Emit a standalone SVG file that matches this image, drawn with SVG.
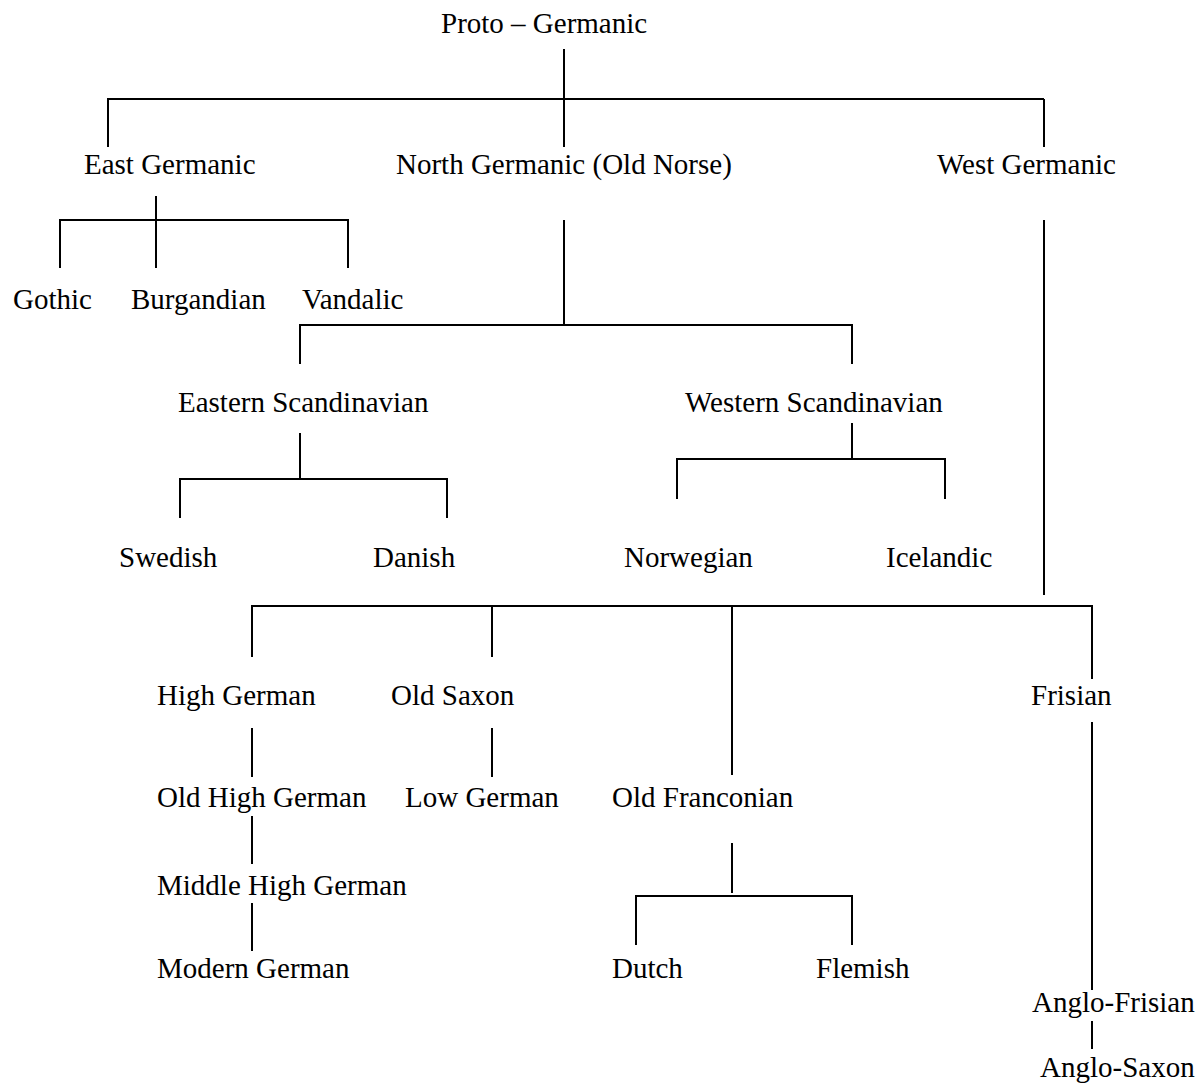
<svg xmlns="http://www.w3.org/2000/svg" width="1201" height="1086" viewBox="0 0 1201 1086">
<style>
text{font-family:"Liberation Serif","Times New Roman",serif;font-size:29px;fill:#000}
.c line{stroke:#000;stroke-width:2;fill:none}
</style>
<rect width="1201" height="1086" fill="#fff"/>
<g class="c" id="connectors">
<line x1="564" y1="49" x2="564" y2="147"/>
<line x1="107" y1="99" x2="1044" y2="99"/>
<line x1="108" y1="99" x2="108" y2="147"/>
<line x1="1044" y1="99" x2="1044" y2="147"/>
<line x1="156" y1="196" x2="156" y2="268"/>
<line x1="59" y1="220" x2="349" y2="220"/>
<line x1="60" y1="220" x2="60" y2="268"/>
<line x1="348" y1="220" x2="348" y2="268"/>
<line x1="564" y1="220" x2="564" y2="326"/>
<line x1="299" y1="325" x2="853" y2="325"/>
<line x1="300" y1="325" x2="300" y2="364"/>
<line x1="852" y1="325" x2="852" y2="364"/>
<line x1="300" y1="433" x2="300" y2="479"/>
<line x1="179" y1="479" x2="448" y2="479"/>
<line x1="180" y1="479" x2="180" y2="518"/>
<line x1="447" y1="479" x2="447" y2="518"/>
<line x1="852" y1="423" x2="852" y2="459"/>
<line x1="676" y1="459" x2="946" y2="459"/>
<line x1="677" y1="459" x2="677" y2="499"/>
<line x1="945" y1="459" x2="945" y2="499"/>
<line x1="1044" y1="220" x2="1044" y2="595"/>
<line x1="251" y1="606" x2="1093" y2="606"/>
<line x1="252" y1="606" x2="252" y2="657"/>
<line x1="492" y1="606" x2="492" y2="657"/>
<line x1="732" y1="606" x2="732" y2="775"/>
<line x1="1092" y1="606" x2="1092" y2="679"/>
<line x1="252" y1="728" x2="252" y2="777"/>
<line x1="492" y1="728" x2="492" y2="777"/>
<line x1="252" y1="816" x2="252" y2="864"/>
<line x1="252" y1="903" x2="252" y2="951"/>
<line x1="732" y1="843" x2="732" y2="893"/>
<line x1="635" y1="896" x2="853" y2="896"/>
<line x1="636" y1="896" x2="636" y2="945"/>
<line x1="852" y1="896" x2="852" y2="945"/>
<line x1="1092" y1="722" x2="1092" y2="990"/>
<line x1="1092" y1="1021" x2="1092" y2="1049"/>
</g>
<g id="proto-germanic"><text x="441" y="33">Proto – Germanic</text></g>
<g id="east-germanic"><text x="84" y="174">East Germanic</text></g>
<g id="north-germanic"><text x="396" y="174">North Germanic (Old Norse)</text></g>
<g id="west-germanic"><text x="937" y="174">West Germanic</text></g>
<g id="gothic"><text x="13" y="309">Gothic</text></g>
<g id="burgandian"><text x="131" y="309">Burgandian</text></g>
<g id="vandalic"><text x="302" y="309">Vandalic</text></g>
<g id="eastern-scandinavian"><text x="178" y="412">Eastern Scandinavian</text></g>
<g id="western-scandinavian"><text x="685" y="412">Western Scandinavian</text></g>
<g id="swedish"><text x="119" y="567">Swedish</text></g>
<g id="danish"><text x="373" y="567">Danish</text></g>
<g id="norwegian"><text x="624" y="567">Norwegian</text></g>
<g id="icelandic"><text x="886" y="567">Icelandic</text></g>
<g id="high-german"><text x="157" y="705">High German</text></g>
<g id="old-saxon"><text x="391" y="705">Old Saxon</text></g>
<g id="frisian"><text x="1031" y="705">Frisian</text></g>
<g id="old-high-german"><text x="157" y="807">Old High German</text></g>
<g id="low-german"><text x="405" y="807">Low German</text></g>
<g id="old-franconian"><text x="612" y="807">Old Franconian</text></g>
<g id="middle-high-german"><text x="157" y="895">Middle High German</text></g>
<g id="modern-german"><text x="157" y="978">Modern German</text></g>
<g id="dutch"><text x="612" y="978">Dutch</text></g>
<g id="flemish"><text x="816" y="978">Flemish</text></g>
<g id="anglo-frisian"><text x="1032" y="1012">Anglo-Frisian</text></g>
<g id="anglo-saxon"><text x="1040" y="1077">Anglo-Saxon</text></g>
</svg>
